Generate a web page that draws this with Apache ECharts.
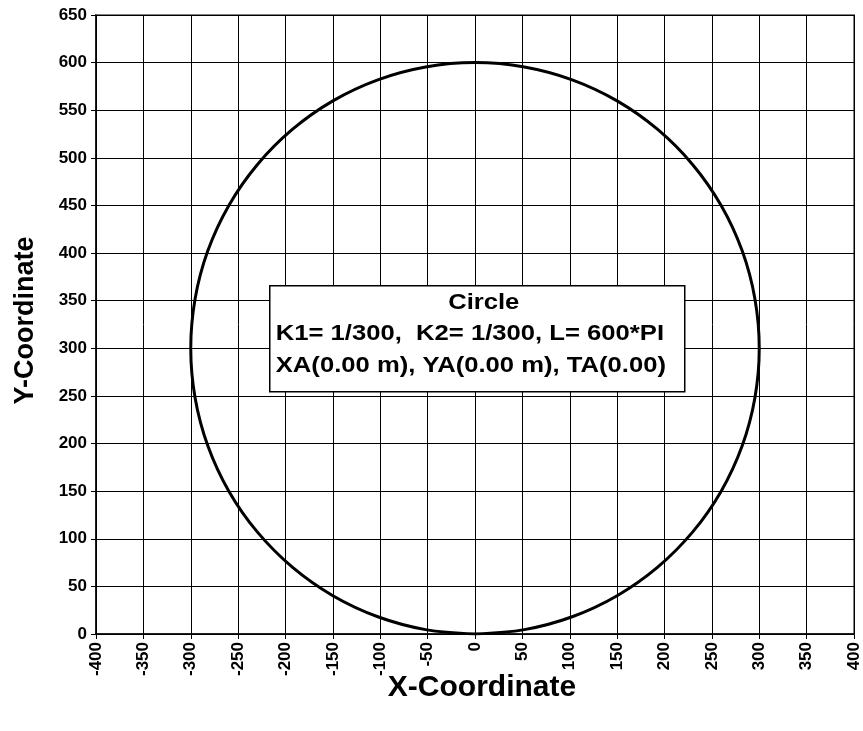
<!DOCTYPE html>
<html>
<head>
<meta charset="utf-8">
<script src="https://cdn.jsdelivr.net/npm/echarts@6/dist/echarts.min.js"></script>
<style>
  html, body { margin: 0; padding: 0; background: #fff; }
  #chart { width: 863px; height: 731px; }
</style>
</head>
<body>
<div id="chart"></div>
<script>
// Path of the element: X and Y coordinates along the circle (every 10 degrees)
const pathX = [0, 52.1, 102.6, 150.0, 192.8, 229.8, 259.8, 281.9, 295.4, 300,
  295.4, 281.9, 259.8, 229.8, 192.8, 150.0, 102.6, 52.1, 0,
  -52.1, -102.6, -150.0, -192.8, -229.8, -259.8, -281.9, -295.4, -300,
  -295.4, -281.9, -259.8, -229.8, -192.8, -150.0, -102.6, -52.1, 0];
const pathY = [0, 4.6, 18.1, 40.2, 70.2, 107.2, 150.0, 197.4, 247.9, 300,
  352.1, 402.6, 450.0, 492.8, 529.8, 559.8, 581.9, 595.4, 600,
  595.4, 581.9, 559.8, 529.8, 492.8, 450.0, 402.6, 352.1, 300,
  247.9, 197.4, 150.0, 107.2, 70.2, 40.2, 18.1, 4.6, 0];

// Axis ranges
const xRange = [-400, 400, 50];
const yRange = [0, 650, 50];

// Parameter box lines
const infoTitle = 'Circle';
const infoLines = ['K1= 1/300,  K2= 1/300, L= 600*PI', 'XA(0.00 m), YA(0.00 m), TA(0.00)'];

const FONT = '"Liberation Sans", Arial, sans-serif';
const points = pathX.map((x, i) => [x, pathY[i]]);

const chart = echarts.init(document.getElementById('chart'), null, { renderer: 'canvas' });

// Text inside the parameter box, slightly widened
const boxText = (text, x, y, align) => ({
  type: 'text', x: x, y: y, z: 101, scaleX: 1.165,
  style: {
    text: text, fontFamily: FONT, fontWeight: 'bold', fontSize: 22,
    fill: '#000', align: align, verticalAlign: 'middle'
  }
});

chart.setOption({
  animation: false,
  backgroundColor: '#fff',
  grid: {
    left: 96, right: 9, top: 15, bottom: 97,
    show: true, borderColor: '#808080', borderWidth: 2, backgroundColor: '#fff'
  },
  xAxis: {
    type: 'value', min: xRange[0], max: xRange[1], interval: xRange[2],
    name: 'X-Coordinate', nameLocation: 'middle', nameGap: 39, nameMoveOverlap: false,
    nameTextStyle: { fontFamily: FONT, fontWeight: 'bold', fontSize: 30, color: '#000', padding: [0, 0, 0, 14] },
    axisLine: { show: true, onZero: false, lineStyle: { color: '#000', width: 1.5 } },
    axisTick: { show: true, length: 5, lineStyle: { color: '#000' } },
    axisLabel: { rotate: 90, margin: 8, fontFamily: FONT, fontWeight: 'bold', fontSize: 17, color: '#000' },
    splitLine: { show: true, lineStyle: { color: '#000', width: 1 } }
  },
  yAxis: {
    type: 'value', min: yRange[0], max: yRange[1], interval: yRange[2],
    name: 'Y-Coordinate', nameLocation: 'middle', nameGap: 57, nameMoveOverlap: false,
    nameTextStyle: { fontFamily: FONT, fontWeight: 'bold', fontSize: 27, color: '#000', padding: [0, 0, 0, 8] },
    axisLine: { show: true, onZero: false, lineStyle: { color: '#000', width: 1.5 } },
    axisTick: { show: true, length: 5, lineStyle: { color: '#000' } },
    axisLabel: { margin: 9, fontFamily: FONT, fontWeight: 'bold', fontSize: 17, color: '#000' },
    splitLine: { show: true, lineStyle: { color: '#000', width: 1 } }
  },
  series: [{
    type: 'line',
    data: points,
    showSymbol: false,
    smooth: 0.35,
    lineStyle: { color: '#000', width: 3 },
    z: 5
  }],
  graphic: [{
    type: 'group',
    left: 269, top: 285,
    z: 100,
    children: [
      { type: 'rect', z: 100, shape: { x: 0, y: 0, width: 415, height: 106 },
        style: { fill: '#fff', stroke: '#000', lineWidth: 1.5 } },
      boxText(infoTitle, 214, 17, 'center'),
      boxText(infoLines[0], 6, 48, 'left'),
      boxText(infoLines[1], 6, 80, 'left')
    ]
  }]
});
</script>
</body>
</html>
